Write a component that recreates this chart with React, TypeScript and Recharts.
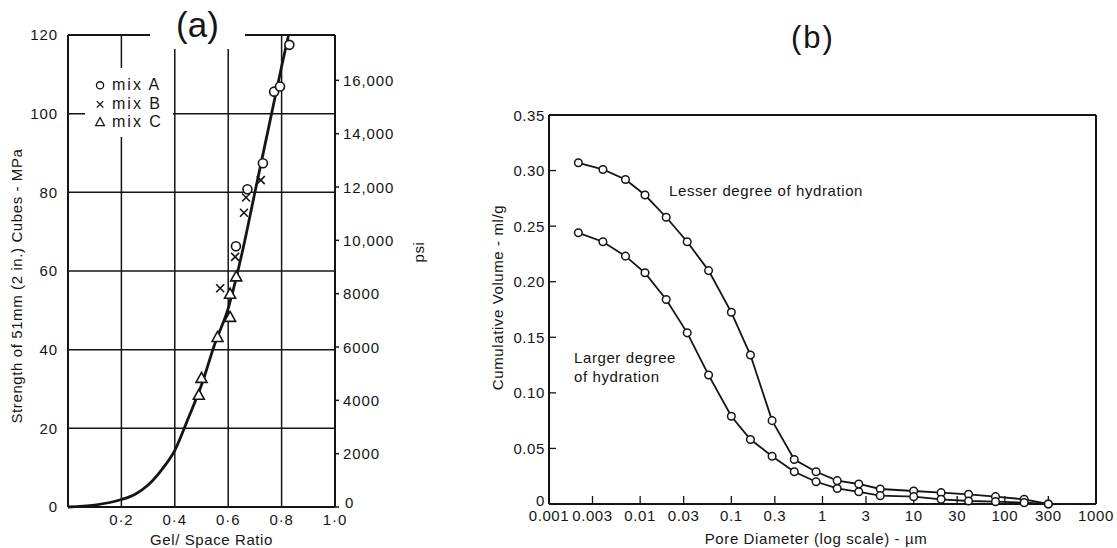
import React from "react";
import {
  ComposedChart,
  LineChart,
  Line,
  Scatter,
  XAxis,
  YAxis,
  CartesianGrid,
  ReferenceLine,
  Legend,
  Label,
} from "recharts";

// ---- (a) strength vs gel/space ratio ----
const curveRatio = [0, 0.1, 0.2, 0.25, 0.3, 0.35, 0.4, 0.45, 0.5, 0.55, 0.6, 0.65, 0.7, 0.75, 0.8, 0.826];
const curveStrength = [0, 0.5, 1.9, 3.2, 5.6, 9.4, 14.4, 22.5, 31, 41.5, 50.5, 64, 80, 96, 112, 120];

const mixARatio = [0.629, 0.672, 0.73, 0.772, 0.794, 0.829];
const mixAStrength = [66.3, 80.8, 87.4, 105.6, 106.9, 117.5];
const mixBRatio = [0.57, 0.626, 0.659, 0.667, 0.722];
const mixBStrength = [55.6, 63.6, 74.8, 78.7, 83.1];
const mixCRatio = [0.49, 0.5, 0.56, 0.607, 0.607, 0.63];
const mixCStrength = [28.4, 32.7, 43.1, 48.2, 54.1, 58.5];

const mpaTicks = [0, 20, 40, 60, 80, 100, 120];
const psiTicks = [0, 2000, 4000, 6000, 8000, 10000, 12000, 14000, 16000];
const ratioTicks = [0.2, 0.4, 0.6, 0.8, 1.0];

// ---- (b) cumulative pore volume vs pore diameter ----
const poreDiameter = [
  0.0021, 0.0039, 0.0069, 0.0113, 0.0193, 0.0328, 0.0563, 0.1, 0.162, 0.28, 0.49,
  0.85, 1.45, 2.5, 4.3, 10, 20, 40, 79, 163, 300,
];
const lesserHydration = [
  0.307, 0.301, 0.292, 0.278, 0.258, 0.236, 0.21, 0.1725, 0.134, 0.075, 0.04,
  0.029, 0.021, 0.018, 0.0135, 0.0117, 0.0102, 0.0087, 0.0066, 0.0042, 0,
];
const largerHydration = [
  0.244, 0.236, 0.223, 0.208, 0.184, 0.154, 0.116, 0.079, 0.058, 0.043, 0.029,
  0.02, 0.014, 0.011, 0.0075, 0.0066, 0.0042, 0.0027, 0.0021, 0.0012, 0,
];
const poreTicks = [0.001, 0.003, 0.01, 0.03, 0.1, 0.3, 1, 3, 10, 30, 100, 300, 1000];
const volumeTicks = [0, 0.05, 0.1, 0.15, 0.2, 0.25, 0.3, 0.35];

const zip = (xs: number[], ys: number[]) => xs.map((x, i) => ({ x, y: ys[i] }));

const INK = "#151515";
const FONT = "'Liberation Sans', Arial, sans-serif";

const CircleMark = ({ cx, cy }: any) => (
  <circle cx={cx} cy={cy} r={4.5} fill="#fff" stroke={INK} strokeWidth={1.6} />
);
const CrossMark = ({ cx, cy }: any) => (
  <path
    d={`M${cx - 4},${cy - 4}L${cx + 4},${cy + 4}M${cx + 4},${cy - 4}L${cx - 4},${cy + 4}`}
    stroke={INK}
    strokeWidth={1.6}
  />
);
const TriMark = ({ cx, cy }: any) => (
  <path
    d={`M${cx},${cy - 6}L${cx + 5.5},${cy + 4}L${cx - 5.5},${cy + 4}Z`}
    fill="#fff"
    stroke={INK}
    strokeWidth={1.6}
  />
);

const mixes = [
  { name: "mix A", Mark: CircleMark },
  { name: "mix B", Mark: CrossMark },
  { name: "mix C", Mark: TriMark },
];

// axis title placed relative to the axis box
function AxisTitle({ viewBox, text, dx = 0, dy = 0, angle = 0, size = 15 }: any) {
  const cx = viewBox.x + viewBox.width / 2 + dx;
  const cy = viewBox.y + viewBox.height / 2 + dy;
  return (
    <text
      x={cx}
      y={cy}
      transform={angle ? `rotate(${angle} ${cx} ${cy})` : undefined}
      textAnchor="middle"
      dominantBaseline="central"
      fill={INK}
      fontSize={size}
      fontFamily={FONT}
      letterSpacing={0.6}
    >
      {text}
    </text>
  );
}

function MixLegend() {
  return (
    <div style={{ fontFamily: FONT, fontSize: 16, letterSpacing: 2, color: INK, padding: "8px 0 0 8px" }}>
      {mixes.map(({ name, Mark }) => (
        <div key={name} style={{ display: "flex", alignItems: "center", height: 18.5 }}>
          <svg width={14} height={14} style={{ marginRight: 5 }}>
            <g transform="scale(0.8) translate(1.8 1.2)">
              <Mark cx={7} cy={8} />
            </g>
          </svg>
          {name}
        </div>
      ))}
    </div>
  );
}

const tickStyleA = { fill: INK, fontSize: 15, fontFamily: FONT, letterSpacing: 0.9 };
const tickStyleB = { fill: INK, fontSize: 15, fontFamily: FONT, letterSpacing: 0.6 };

const PsiTick = ({ x, y, payload }: any) => {
  const v = payload.value;
  return (
    <text
      x={v === 0 ? x + 2 : x}
      y={v === 0 ? y - 5 : y}
      textAnchor="start"
      dominantBaseline="central"
      {...tickStyleA}
    >
      {v >= 10000 ? v.toLocaleString("en-US") : String(v)}
    </text>
  );
};

const VolumeTick = ({ x, y, payload }: any) => (
  <text
    x={x}
    y={payload.value === 0 ? y - 4 : y}
    textAnchor="end"
    dominantBaseline="central"
    {...tickStyleB}
  >
    {payload.value === 0 ? "0" : payload.value.toFixed(2)}
  </text>
);

function ChartA() {
  const curve = zip(curveRatio, curveStrength);
  return (
    <ComposedChart width={440} height={548} margin={{ top: 35, right: 45, bottom: 11, left: 13 }}>
      <CartesianGrid stroke={INK} strokeWidth={1.5} />
      <XAxis
        type="number"
        dataKey="x"
        domain={[0, 1]}
        ticks={ratioTicks}
        tickFormatter={(v: number) => v.toFixed(1).replace(".", "·")}
        tick={tickStyleA}
        tickLine={false}
        tickMargin={1}
        axisLine={{ stroke: INK, strokeWidth: 2 }}
        height={30}
      >
        <Label content={(p: any) => <AxisTitle viewBox={p.viewBox} text="Gel/ Space Ratio" dx={10} dy={17} />} />
      </XAxis>
      <YAxis
        type="number"
        domain={[0, 120]}
        ticks={mpaTicks}
        tick={tickStyleA}
        tickLine={false}
        tickMargin={4}
        axisLine={{ stroke: INK, strokeWidth: 2 }}
        width={55}
      >
        <Label
          content={(p: any) => (
            <AxisTitle viewBox={p.viewBox} text="Strength of 51mm (2 in.) Cubes - MPa" angle={-90} dx={-24.5} dy={15} />
          )}
        />
      </YAxis>
      <YAxis
        yAxisId="psi"
        orientation="right"
        type="number"
        domain={[0, 17700]}
        allowDataOverflow
        ticks={psiTicks}
        interval={0}
        tick={PsiTick}
        tickSize={4}
        tickMargin={4}
        tickLine={{ stroke: INK, strokeWidth: 1.5 }}
        axisLine={{ stroke: INK, strokeWidth: 2 }}
        width={60}
      >
        <Label content={(p: any) => <AxisTitle viewBox={p.viewBox} text="psi" angle={-90} dx={53} dy={-19} />} />
      </YAxis>
      <ReferenceLine y={120} stroke={INK} strokeWidth={2} />
      <Line
        data={curve}
        dataKey="y"
        type="monotone"
        stroke={INK}
        strokeWidth={2.8}
        dot={false}
        isAnimationActive={false}
      />
      <Scatter name="mix A" data={zip(mixARatio, mixAStrength)} dataKey="y" shape={CircleMark} isAnimationActive={false} />
      <Scatter name="mix B" data={zip(mixBRatio, mixBStrength)} dataKey="y" shape={CrossMark} isAnimationActive={false} />
      <Scatter name="mix C" data={zip(mixCRatio, mixCStrength)} dataKey="y" shape={TriMark} isAnimationActive={false} />
      <Legend
        layout="horizontal"
        verticalAlign="middle"
        align="center"
        content={() => <MixLegend />}
        wrapperStyle={{ left: 85, top: 68, width: 88, height: 69, background: "#fff" }}
      />
    </ComposedChart>
  );
}

function ChartB() {
  const lesser = zip(poreDiameter, lesserHydration);
  const larger = zip(poreDiameter, largerHydration);
  const dot = { r: 3.8, fill: "#fff", stroke: INK, strokeWidth: 1.5 };
  return (
    <LineChart width={647} height={548} margin={{ top: 115, right: 21, bottom: 14, left: 19 }}>
      <XAxis
        type="number"
        dataKey="x"
        scale="log"
        domain={[0.001, 1000]}
        ticks={poreTicks}
        tickFormatter={(v: number) => String(v)}
        tick={tickStyleB}
        tickSize={-8}
        tickMargin={14}
        tickLine={{ stroke: INK, strokeWidth: 1.3 }}
        axisLine={{ stroke: INK, strokeWidth: 2 }}
        interval={0}
        height={30}
        allowDataOverflow
      >
        <Label
          content={(p: any) => (
            <AxisTitle viewBox={p.viewBox} text="Pore Diameter (log scale) - µm" dx={-6.5} dy={19} />
          )}
        />
      </XAxis>
      <YAxis
        type="number"
        domain={[0, 0.35]}
        ticks={volumeTicks}
        tick={VolumeTick}
        tickSize={-7}
        tickMargin={11}
        tickLine={{ stroke: INK, strokeWidth: 1.3 }}
        axisLine={{ stroke: INK, strokeWidth: 2 }}
        width={60}
      >
        <Label
          content={(p: any) => (
            <AxisTitle viewBox={p.viewBox} text="Cumulative Volume - ml/g" angle={-90} dx={-22} dy={-12} />
          )}
        />
      </YAxis>
      <ReferenceLine y={0.35} stroke={INK} strokeWidth={2} />
      <ReferenceLine x={1000} stroke={INK} strokeWidth={2} />
      <Line data={lesser} dataKey="y" type="linear" stroke={INK} strokeWidth={1.8} dot={dot} isAnimationActive={false} />
      <Line data={larger} dataKey="y" type="linear" stroke={INK} strokeWidth={1.8} dot={dot} isAnimationActive={false} />
    </LineChart>
  );
}

const note: React.CSSProperties = {
  position: "absolute",
  fontFamily: FONT,
  fontSize: 15,
  letterSpacing: 0.6,
  lineHeight: "18.5px",
  color: INK,
  whiteSpace: "nowrap",
};

export default function App() {
  return (
    <div style={{ position: "absolute", left: 0, top: 0, width: 1117, height: 548, background: "#fff" }}>
      <div style={{ position: "absolute", left: 0, top: 0 }}>
        <ChartA />
      </div>
      <div style={{ position: "absolute", left: 470, top: 0 }}>
        <ChartB />
      </div>
      <div
        style={{
          position: "absolute",
          left: 150,
          top: 1,
          width: 95,
          height: 48,
          lineHeight: "48px",
          background: "#fff",
          textAlign: "center",
          fontFamily: FONT,
          fontSize: 35,
          color: INK,
        }}
      >
        (a)
      </div>
      <div
        style={{
          position: "absolute",
          left: 773,
          top: 18,
          width: 80,
          lineHeight: "40px",
          textAlign: "center",
          fontFamily: FONT,
          fontSize: 31,
          letterSpacing: 2,
          color: INK,
        }}
      >
        (b)
      </div>
      <div style={{ ...note, left: 669, top: 182 }}>Lesser degree of hydration</div>
      <div style={{ ...note, left: 574, top: 349 }}>
        Larger degree
        <br />
        of hydration
      </div>
    </div>
  );
}
